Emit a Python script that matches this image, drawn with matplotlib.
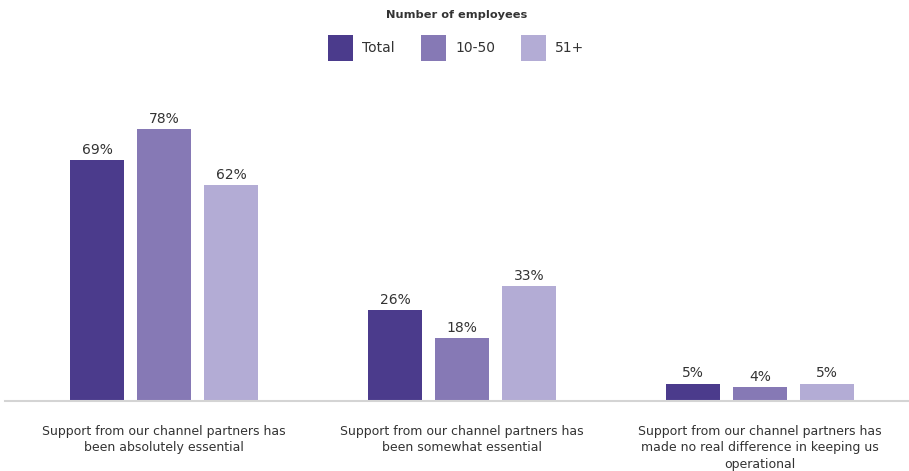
import matplotlib.pyplot as plt
import numpy as np

# Survey responses by company size (share of respondents, %)
categories = [
    "Support from our channel partners has\nbeen absolutely essential",
    "Support from our channel partners has\nbeen somewhat essential",
    "Support from our channel partners has\nmade no real difference in keeping us\noperational",
]
series_names = ["Total", "10-50", "51+"]
total = [69, 26, 5]
small = [78, 18, 4]
large = [62, 33, 5]

colors = ["#4b3b8c", "#8679b5", "#b3acd5"]
text_color = "#333333"

fig = plt.figure(figsize=(9.09, 4.71), dpi=100)
ax = fig.add_axes([5 / 909, 70 / 471, 904 / 909, 301 / 471])

x = np.arange(len(categories))
width = 0.181
offset = 0.225

for i, (name, vals) in enumerate(zip(series_names, [total, small, large])):
    pos = x + (i - 1) * offset
    bars = ax.bar(pos, vals, width, color=colors[i], label=name)
    for b, v in zip(bars, vals):
        ax.text(b.get_x() + b.get_width() / 2, v + 0.9, f"{v}%",
                ha="center", va="bottom", fontsize=10, color=text_color)

ax.set_xlim(-0.534, 2.5)
ax.set_ylim(0, 86.3)
ax.set_yticks([])
ax.set_xticks(x)
ax.set_xticklabels(categories, fontsize=9, color=text_color, linespacing=1.35)
ax.tick_params(axis="x", length=0, pad=17)
for s in ["top", "right", "left"]:
    ax.spines[s].set_visible(False)
ax.spines["bottom"].set_color("#d4d4d4")
ax.spines["bottom"].set_linewidth(1.5)

fig.text(0.502, 1 - 15 / 471, "Number of employees", ha="center", va="center",
         fontsize=8.2, fontweight="bold", color=text_color)
fig.legend(loc="center", bbox_to_anchor=(0.502, 1 - 48 / 471), ncol=3,
           frameon=False, fontsize=10, handlelength=1.8, handleheight=2.4,
           handletextpad=0.65, columnspacing=1.9, labelcolor=text_color)

plt.savefig("out.png", dpi=100)
